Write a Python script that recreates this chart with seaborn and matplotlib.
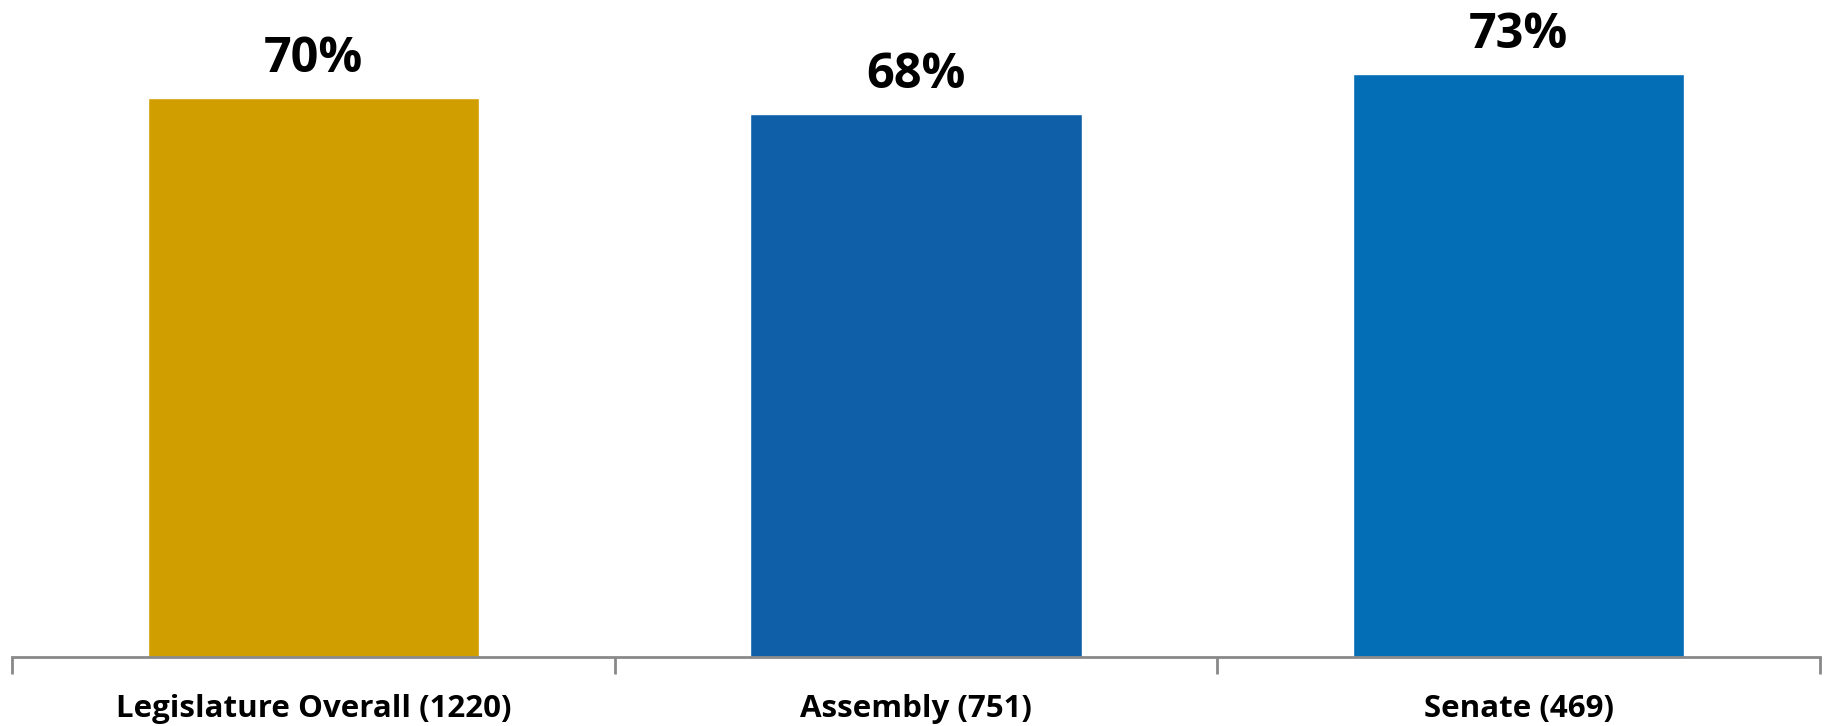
import matplotlib
matplotlib.use("Agg")
import matplotlib.pyplot as plt
from matplotlib import font_manager
import seaborn as sns
import pandas as pd

categories = ["Legislature Overall (1220)", "Assembly (751)", "Senate (469)"]
values = [70, 68, 73]
value_labels = ["70%", "68%", "73%"]
colors = ["#D19E00", "#0F5FA8", "#036DB6"]

sns.set_style("white")
avail = {f.name for f in font_manager.fontManager.ttflist}
fam = ["Open Sans", "DejaVu Sans"]
fam = [f for f in fam if f in avail] or ["DejaVu Sans"]
plt.rcParams["font.family"] = fam

df = pd.DataFrame({"cat": categories, "val": values})

fig = plt.figure(figsize=(18.33, 7.26), dpi=100)
ax = fig.add_axes([12 / 1833, 69 / 726, (1820 - 12) / 1833, 657 / 726])
sns.barplot(data=df, x="cat", y="val", hue="cat", palette=colors,
            width=0.55, legend=False, ax=ax, saturation=1)

ax.set_xlim(-0.5, 2.5)
ax.set_ylim(0, 82.3)
for s in ["top", "right", "left"]:
    ax.spines[s].set_visible(False)
ax.spines["bottom"].set_color("#898989")
ax.spines["bottom"].set_linewidth(2)
ax.set_yticks([])
ax.set_xlabel("")
ax.set_ylabel("")
ax.set_xticks([0, 1, 2])
ax.set_xticklabels(categories, fontsize=22.5, fontweight="bold", color="black")
ax.tick_params(axis="x", which="major", bottom=True, length=0, pad=27)
ax.set_xticks([-0.5, 0.5, 1.5, 2.5], minor=True)
ax.tick_params(axis="x", which="minor", bottom=True, length=12, width=2,
               color="#898989")

for i, (v, lab) in enumerate(zip(values, value_labels)):
    ax.annotate(lab, (i, v), xytext=(0, 19), textcoords="offset points",
                ha="center", va="baseline", fontsize=35, fontweight="bold",
                color="black")

fig.savefig("out.png", dpi=100, facecolor="white")
